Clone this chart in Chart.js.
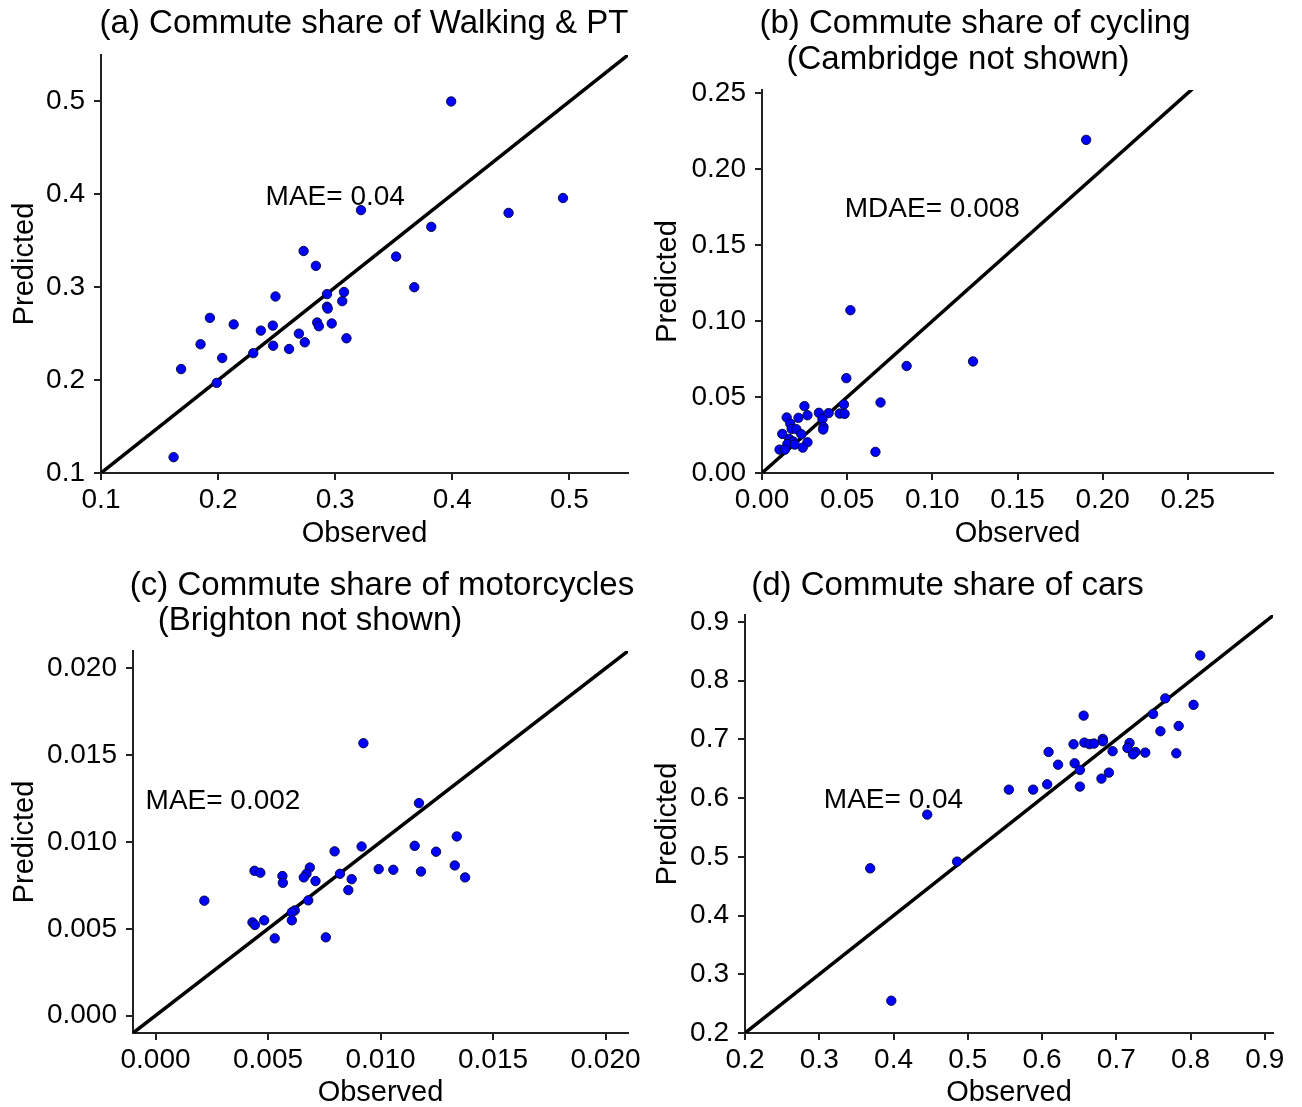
<!DOCTYPE html>
<html lang="en">
<head>
<meta charset="UTF-8">
<title>Observed vs predicted commute shares</title>
<style>
  body { margin: 0; background: #fff; }
  #wrap { position: relative; width: 1302px; height: 1107px; }
  canvas { position: absolute; }
</style>
</head>
<body>
<div id="wrap">
  <canvas id="chartA" width="651" height="553" style="left:0;top:0"></canvas>
  <canvas id="chartB" width="651" height="553" style="left:651px;top:0"></canvas>
  <canvas id="chartC" width="651" height="554" style="left:0;top:553px"></canvas>
  <canvas id="chartD" width="651" height="554" style="left:651px;top:553px"></canvas>
</div>

<script src="https://cdn.jsdelivr.net/npm/chart.js"></script>
<script>
// (a) walking & public transport
const obsWalk  = [0.399, 0.4945, 0.448, 0.322, 0.382, 0.352, 0.3675, 0.273, 0.2835, 0.249, 0.293,
                  0.3075, 0.306, 0.293, 0.2936, 0.193, 0.2133, 0.2467, 0.2365, 0.2846, 0.286, 0.297,
                  0.269, 0.274, 0.3096, 0.185, 0.247, 0.2606, 0.230, 0.2035, 0.1684, 0.1988, 0.162];
const predWalk = [0.500, 0.396, 0.380, 0.383, 0.365, 0.333, 0.300, 0.339, 0.323, 0.290, 0.2926,
                  0.2948, 0.285, 0.279, 0.277, 0.267, 0.260, 0.2587, 0.2533, 0.262, 0.258, 0.261,
                  0.250, 0.2407, 0.245, 0.2386, 0.237, 0.2335, 0.229, 0.2238, 0.2119, 0.197, 0.117];

// (b) cycling
const obsCyc  = [0.1903, 0.0519, 0.1239, 0.0849, 0.0495, 0.0696, 0.0481, 0.0666, 0.0249, 0.0267, 0.0334,
                 0.0391, 0.0456, 0.0485, 0.0355, 0.0361, 0.0359, 0.0145, 0.0214, 0.0166, 0.0174, 0.0202,
                 0.0119, 0.0231, 0.0160, 0.0184, 0.0267, 0.0149, 0.0192, 0.0239, 0.0103, 0.0135];
const predCyc = [0.2192, 0.1071, 0.0734, 0.0704, 0.0624, 0.0464, 0.0451, 0.0139, 0.0440, 0.0380, 0.0396,
                 0.0394, 0.0391, 0.0389, 0.0356, 0.0303, 0.0286, 0.0365, 0.0363, 0.0325, 0.0290, 0.0288,
                 0.0257, 0.0255, 0.0224, 0.0207, 0.0202, 0.0191, 0.0187, 0.0167, 0.0154, 0.0154];

// (c) motorcycles
const obsMoto  = [0.00924, 0.01171, 0.01339, 0.01152, 0.00916, 0.00796, 0.01247, 0.0133, 0.00992, 0.01057, 0.0118,
                  0.01376, 0.0044, 0.00466, 0.00564, 0.00566, 0.00686, 0.00671, 0.00659, 0.00711, 0.0082, 0.00872,
                  0.00857, 0.00217, 0.00679, 0.00619, 0.00606, 0.00606, 0.00483, 0.00431, 0.00442, 0.0053, 0.00757];
const predMoto = [0.01569, 0.01224, 0.01032, 0.00978, 0.00974, 0.00946, 0.00944, 0.00865, 0.00844, 0.0084, 0.0083,
                  0.00796, 0.00834, 0.00823, 0.00804, 0.00765, 0.00853, 0.00817, 0.00796, 0.00775, 0.00817, 0.00786,
                  0.00723, 0.00662, 0.00664, 0.00606, 0.00595, 0.00549, 0.00549, 0.00537, 0.00522, 0.00445, 0.00451];

// (d) cars
const obsCar  = [0.813, 0.766, 0.804, 0.7495, 0.656, 0.784, 0.7594, 0.6818, 0.682, 0.657, 0.6638, 0.670,
                 0.6424, 0.7178, 0.715, 0.695, 0.7258, 0.7225, 0.739, 0.7808, 0.6088, 0.6216, 0.6439, 0.651,
                 0.690, 0.680, 0.6069, 0.651, 0.5553, 0.588, 0.4454, 0.4856, 0.3686, 0.397];
const predCar = [0.843, 0.770, 0.759, 0.7434, 0.7406, 0.723, 0.714, 0.7009, 0.697, 0.6946, 0.692, 0.693,
                 0.6918, 0.694, 0.6855, 0.680, 0.6787, 0.6747, 0.6776, 0.6764, 0.6787, 0.657, 0.6594, 0.648,
                 0.6435, 0.6333, 0.6236, 0.6197, 0.6145, 0.6145, 0.572, 0.4919, 0.4805, 0.255];

// tick labels and axis ranges
const ticksWalk = ['0.1', '0.2', '0.3', '0.4', '0.5'];
const ticksCyc  = ['0.00', '0.05', '0.10', '0.15', '0.20', '0.25'];
const ticksMoto = ['0.000', '0.005', '0.010', '0.015', '0.020'];
const ticksCar  = ['0.2', '0.3', '0.4', '0.5', '0.6', '0.7', '0.8', '0.9'];

const xRangeWalk = [0.1, 0.55],    yRangeWalk = [0.1, 0.55];
const xRangeCyc  = [0, 0.30],      yRangeCyc  = [0, 0.252];
const xRangeMoto = [-0.001, 0.021], yRangeMoto = [-0.001, 0.021];
const xRangeCar  = [0.2, 0.911],   yRangeCar  = [0.2, 0.912];

const FONT = '"Liberation Sans", Arial, sans-serif';

function toPoints(xs, ys) {
    return xs.map((x, i) => ({ x: x, y: ys[i] }));
}

// panel titles + error annotation
const panelText = {
    id: 'panelText',
    afterDatasetsDraw(chart, args, opts) {
        const ctx = chart.ctx;
        ctx.save();
        ctx.fillStyle = '#000';
        ctx.textAlign = 'center';
        ctx.textBaseline = 'middle';
        ctx.font = '33px ' + FONT;
        opts.title.forEach(t => ctx.fillText(t[0], t[1], t[2] + 2));
        ctx.font = '28px ' + FONT;
        ctx.fillText(opts.note,
            chart.scales.x.getPixelForValue(opts.noteAt[0]),
            chart.scales.y.getPixelForValue(opts.noteAt[1]) + 2.5);
        ctx.restore();
    }
};

function axis(range, labels, fitSize, titleText, titlePad, isX) {
    return {
        type: 'linear',
        min: range[0],
        max: range[1],
        afterBuildTicks: s => { s.ticks = labels.map(l => ({ value: Number(l) })); },
        afterFit: s => { if (isX) s.height = fitSize; else s.width = fitSize; },
        ticks: {
            callback: (v, i) => labels[i],
            font: { size: 28, family: FONT },
            color: '#000',
            padding: isX ? 3 : 9,
            maxRotation: 0,
            autoSkip: false
        },
        grid: { drawOnChartArea: false, drawTicks: true, tickLength: 7, color: '#222', lineWidth: 2 },
        border: { display: true, color: '#222', width: 2 },
        title: {
            display: true,
            text: titleText,
            font: { size: 29, family: FONT, lineHeight: 1 },
            color: '#000',
            padding: titlePad
        }
    };
}

function makePanel(id, xs, ys, xRange, yRange, labels, p) {
    const lo = Math.min(xRange[0], yRange[0]);
    const hi = Math.max(xRange[1], yRange[1]);
    new Chart(document.getElementById(id), {
        type: 'scatter',
        data: {
            datasets: [{
                data: toPoints(xs, ys),
                backgroundColor: '#0000ff',
                borderColor: '#000033',
                borderWidth: 0.9,
                pointRadius: 4.7
            }, {
                type: 'line',
                data: [{ x: lo, y: lo }, { x: hi, y: hi }],
                borderColor: '#000',
                borderWidth: 3.5,
                pointRadius: 0,
                fill: false
            }]
        },
        options: {
            responsive: false,
            animation: false,
            events: [],
            layout: { padding: p.pad },
            plugins: {
                legend: { display: false },
                tooltip: { enabled: false },
                panelText: { title: p.title, note: p.note, noteAt: p.noteAt }
            },
            scales: {
                x: axis(xRange, labels, p.xHeight, 'Observed', { top: 0, bottom: p.xTitlePad }, true),
                y: axis(yRange, labels, p.yWidth, 'Predicted', { top: p.yTitlePad, bottom: 0 }, false)
            }
        },
        plugins: [panelText]
    });
}

makePanel('chartA', obsWalk, predWalk, xRangeWalk, yRangeWalk, ticksWalk, {
    pad: { top: 55, right: 23, left: 0, bottom: 0 },
    xHeight: 80, yWidth: 101, xTitlePad: 4.5, yTitlePad: 10.5,
    title: [['(a) Commute share of Walking & PT', 364, 22]],
    note: 'MAE= 0.04', noteAt: [0.3, 0.4]
});

makePanel('chartB', obsCyc, predCyc, xRangeCyc, yRangeCyc, ticksCyc, {
    pad: { top: 90, right: 29, left: 0, bottom: 0 },
    xHeight: 80, yWidth: 111, xTitlePad: 4.5, yTitlePad: 2.5,
    title: [['(b) Commute share of cycling', 324, 22], ['(Cambridge not shown)', 307, 58]],
    note: 'MDAE= 0.008', noteAt: [0.10, 0.175]
});

makePanel('chartC', obsMoto, predMoto, xRangeMoto, yRangeMoto, ticksMoto, {
    pad: { top: 98, right: 23, left: 0, bottom: 0 },
    xHeight: 74, yWidth: 133, xTitlePad: 0, yTitlePad: 10.5,
    title: [['(c) Commute share of motorcycles', 382, 31], ['(Brighton not shown)', 310, 66]],
    note: 'MAE= 0.002', noteAt: [0.003, 0.0125]
});

makePanel('chartD', obsCar, predCar, xRangeCar, yRangeCar, ticksCar, {
    pad: { top: 62, right: 29, left: 0, bottom: 0 },
    xHeight: 74, yWidth: 94, xTitlePad: 0, yTitlePad: 2.5,
    title: [['(d) Commute share of cars', 296.5, 31]],
    note: 'MAE= 0.04', noteAt: [0.4, 0.6]
});
</script>
</body>
</html>
